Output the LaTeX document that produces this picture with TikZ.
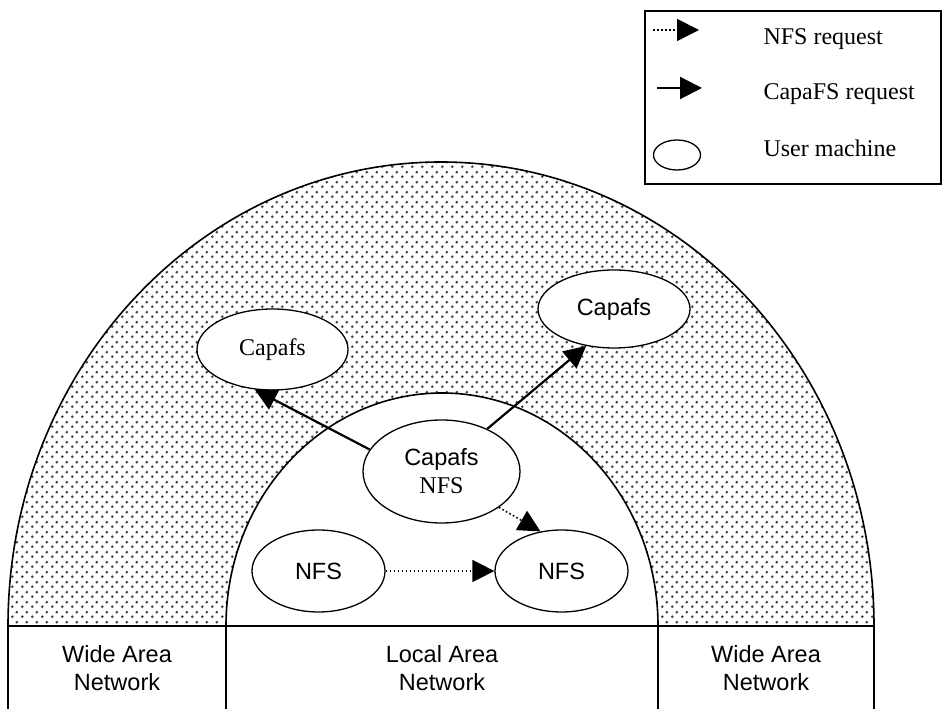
\documentclass[tikz,border=0pt]{standalone}
\usepackage{fontspec}
\setmainfont{Liberation Serif}
\setsansfont{Liberation Sans}
\usetikzlibrary{shapes.geometric,arrows.meta,patterns.meta}

% halftone screen used for the wide area ring
\tikzdeclarepattern{
  name=screendots,
  type=uncolored,
  bottom left={(0pt,0pt)},
  top right={(10pt,10pt)},
  tile size={(10pt,10pt)},
  code={
    \pgfpathcircle{\pgfpoint{2.5pt}{2.5pt}}{1.6pt}
    \pgfpathcircle{\pgfpoint{7.5pt}{7.5pt}}{1.6pt}
    \pgfusepath{fill}
  }
}

\begin{document}
\begin{tikzpicture}[x=1pt,y=1pt,
  txt/.style={font=\fontsize{24}{28}\selectfont},
  stxt/.style={font=\sffamily\fontsize{23.5}{28}\selectfont},
  host/.style={draw, ellipse, line width=1.3pt, fill=white, inner sep=0pt},
  capreq/.style={line width=2.2pt, -{Triangle[length=22pt,width=22pt]}},
  nfsreq/.style={line width=1.6pt, dash pattern=on 1.6pt off 2.4pt,
                 -{Triangle[length=22pt,width=22pt]}},
  frame/.style={line width=1.6pt}
]
\useasboundingbox (0,0) rectangle (944,709);
\fill[white] (0,0) rectangle (944,709);

% wide area ring (outer half ellipse minus the local area half ellipse)
\fill[pattern=screendots, pattern color=black!75, even odd rule]
  (8,83) arc[start angle=180,end angle=0,x radius=433,y radius=464] -- cycle
  (226,83) arc[start angle=180,end angle=0,x radius=216,y radius=233] -- cycle;
\draw[frame] (8,83) arc[start angle=180,end angle=0,x radius=433,y radius=464];
\draw[frame] (226,83) arc[start angle=180,end angle=0,x radius=216,y radius=233];

% network table along the bottom
\draw[frame] (8,0) -- (8,83) -- (874,83) -- (874,0);
\draw[frame] (226,0) -- (226,83);
\draw[frame] (658,0) -- (658,83);
\node[stxt, align=center] (wanl) at (117,41) {Wide Area\\Network};
\node[stxt, align=center] (lan) at (442,41) {Local Area\\Network};
\node[stxt, align=center] (wanr) at (766,41) {Wide Area\\Network};

% user machines
\node[host, txt, minimum width=151pt, minimum height=81pt] (lc) at (272.5,359.5) {Capafs};
\node[host, stxt, minimum width=152pt, minimum height=78pt] (rc) at (614,400) {Capafs};
\node[host, txt, align=center, minimum width=157pt, minimum height=103pt] (cn) at (441.5,237.5)
  {{\sffamily\fontsize{23.5}{28}\selectfont Capafs}\\NFS};
\node[host, stxt, minimum width=133pt, minimum height=82pt] (ln) at (318.5,138) {NFS};
\node[host, stxt, minimum width=133pt, minimum height=82pt] (rn) at (561.5,138) {NFS};

% requests
\draw[capreq] (cn.163) -- (lc.246);
\draw[capreq] (cn.43) -- (rc.233);
\draw[nfsreq] (cn.-32) -- (rn.118);
\draw[nfsreq] (ln.east) -- (rn.west);

% legend
\node[draw, line width=1.3pt, minimum width=296pt, minimum height=173pt, inner sep=0pt] (legend) at (793,611.5) {};
\coordinate (nfsa) at (653,679);
\coordinate (nfsb) at (699,679);
\draw[nfsreq] (nfsa) -- (nfsb);
\coordinate (capa) at (657,621);
\coordinate (capb) at (702,621);
\draw[capreq] (capa) -- (capb);
\node[host, minimum width=47pt, minimum height=30pt] (um) at (677,554) {};
\node[txt, anchor=base west] (lnfs) at (760,664) {NFS request};
\node[txt, anchor=base west] (lcap) at (760,609) {CapaFS request};
\node[txt, anchor=base west] (lum) at (760,552) {User machine};
\end{tikzpicture}
\end{document}
